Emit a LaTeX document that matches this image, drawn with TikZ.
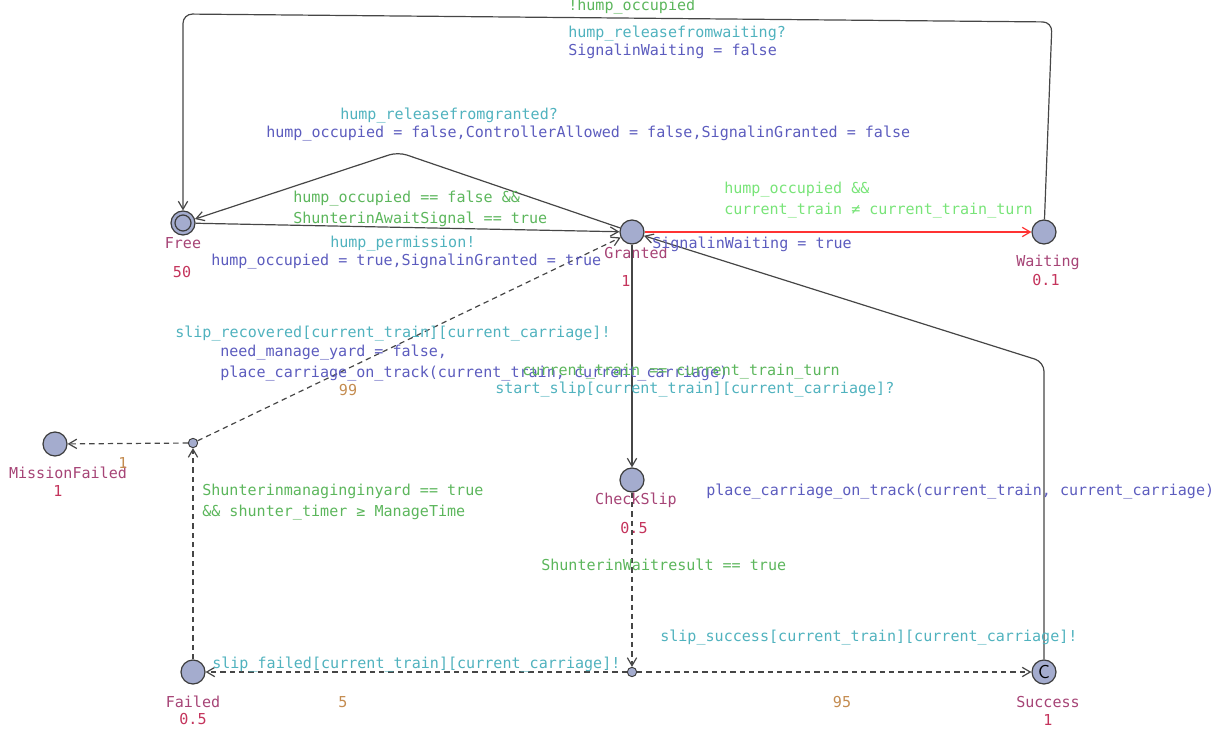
\documentclass[tikz,border=0pt]{standalone}
\usepackage{fontspec}
\setmonofont{DejaVu Sans Mono}
\usetikzlibrary{arrows.meta}

\definecolor{locfill}{RGB}{164,172,206}
\definecolor{locline}{RGB}{60,60,60}
\definecolor{locname}{RGB}{166,68,118}
\definecolor{invcol}{RGB}{196,52,92}
\definecolor{guardcol}{RGB}{92,182,92}
\definecolor{guardlight}{RGB}{120,228,120}
\definecolor{synccol}{RGB}{80,178,190}
\definecolor{updcol}{RGB}{92,92,190}
\definecolor{probcol}{RGB}{196,140,80}
\definecolor{edgecol}{RGB}{70,70,70}

\begin{document}
\begin{tikzpicture}[x=0.75pt,y=-0.75pt,
	every node/.style={font=\ttfamily\fontsize{11.3}{15.75}\selectfont,inner sep=0pt},
	loc/.style={circle,draw=locline,line width=0.9pt,fill=locfill,minimum size=18pt},
	branch/.style={circle,draw=locline,line width=0.7pt,fill=locfill,minimum size=7pt},
	lbl/.style={anchor=west,align=left},
	edge/.style={draw=edgecol,line width=0.9pt,-{Straight Barb[length=6pt,width=7pt]}},
	prob/.style={edge,dash pattern=on 4pt off 3pt}]
	\useasboundingbox (0,0) rectangle (1225,731);

	% locations
	\foreach \nm/\px/\py in {free/183/223,granted/632/232,waiting/1044/232,checkslip/632/480,
			missionfailed/55/444,failed/193/672} {
			\node[loc] (\nm) at (\px,\py) {};
		}
	\node[loc,font=\sffamily\fontsize{14}{14}\selectfont] (success) at (1044,672) {C};
	\node[loc,minimum size=12pt] (freeinit) at (free) {};
	\node[branch] (bRecover) at (193,443) {};
	\node[branch] (bResult) at (632,672) {};

	% names and invariants
	\foreach \nm/\txt/\px/\py in {free/Free/183/243,granted/Granted/636/253,waiting/Waiting/1048/262,
			checkslip/CheckSlip/636/500,missionfailed/MissionFailed/68/473,failed/Failed/193/702,
			success/Success/1048/702} {
			\node[text=locname] (n\nm) at (\px,\py) {\txt};
		}
	\foreach \nm/\txt/\px/\py in {free/50/182/272,granted/1/626/281,waiting/0.1/1046/280,
			checkslip/0.5/634/528,missionfailed/1/58/491,failed/0.5/193/719,success/1/1048/720} {
			\node[text=invcol] (i\nm) at (\px,\py) {\txt};
		}

	% corners
	\coordinate (cRelGranted) at (398,152);
	\coordinate (cWaitA) at (1052,22);
	\coordinate (cWaitB) at (183,14);
	\coordinate (cPlace) at (1044,362);

	% edges
	\draw[edge] (free) -- (granted);
	\draw[edge,rounded corners=7pt] (granted) -- (cRelGranted) -- (free);
	\draw[edge,draw=red!80] (granted) -- (waiting);
	\draw[edge,rounded corners=7pt] (waiting) -- (cWaitA) -- (cWaitB) -- (free);
	\draw[edge] (granted) -- (checkslip);
	\draw[edge,rounded corners=7pt] (success) -- (cPlace) -- (granted);
	\draw[prob] (checkslip) -- (bResult);
	\draw[prob] (bResult) -- (success);
	\draw[prob] (bResult) -- (failed);
	\draw[prob] (failed) -- (bRecover);
	\draw[prob] (bRecover) -- (missionfailed);
	\draw[prob] (bRecover) -- (granted);

	% labels
	\node[lbl,text=guardcol] (gWait) at (568,7) {!hump\_occupied};
	\node[lbl,text=synccol] (sWait) at (568,34) {hump\_releasefromwaiting?};
	\node[lbl,text=updcol] (uWait) at (568,51) {SignalinWaiting = false};
	\node[lbl,text=synccol] (sRelGranted) at (340,116) {hump\_releasefromgranted?};
	\node[lbl,text=updcol] (uRelGranted) at (266,134) {hump\_occupied = false,ControllerAllowed = false,SignalinGranted = false};
	\node[lbl,text=guardcol] (gPerm) at (293,208.5) {hump\_occupied == false \&\&\\ShunterinAwaitSignal == true};
	\node[lbl,text=synccol] (sPerm) at (330,244) {hump\_permission!};
	\node[lbl,text=updcol] (uPerm) at (211,262) {hump\_occupied = true,SignalinGranted = true};
	\node[lbl,text=guardlight] (gToWait) at (724,200) {hump\_occupied \&\&\\current\_train ≠ current\_train\_turn};
	\node[lbl,text=updcol] (uToWait) at (652,244) {SignalinWaiting = true};
	\node[lbl,text=synccol] (sRecover) at (175,334) {slip\_recovered[current\_train][current\_carriage]!};
	\node[lbl,text=updcol] (uRecover) at (220,363.5) {need\_manage\_yard = false,\\place\_carriage\_on\_track(current\_train, current\_carriage)};
	\node[text=probcol] (pRecover) at (348,390) {99};
	\node[lbl,text=guardcol] (gSlip) at (522,372) {current\_train == current\_train\_turn};
	\node[lbl,text=synccol] (sSlip) at (495,390) {start\_slip[current\_train][current\_carriage]?};
	\node[text=probcol] (pMission) at (123,463) {1};
	\node[lbl,text=guardcol] (gManage) at (202,502) {Shunterinmanaginginyard == true\\\&\& shunter\_timer ≥ ManageTime};
	\node[lbl,text=updcol] (uPlace) at (706,492) {place\_carriage\_on\_track(current\_train, current\_carriage)};
	\node[lbl,text=guardcol] (gResult) at (541,565) {ShunterinWaitresult == true};
	\node[lbl,text=synccol] (sSuccess) at (660,638) {slip\_success[current\_train][current\_carriage]!};
	\node[lbl,text=synccol] (sFailed) at (212,665) {slip\_failed[current\_train][current\_carriage]!};
	\node[text=probcol] (pFailed) at (343,702) {5};
	\node[text=probcol] (pSuccess) at (842,702) {95};
\end{tikzpicture}
\end{document}
